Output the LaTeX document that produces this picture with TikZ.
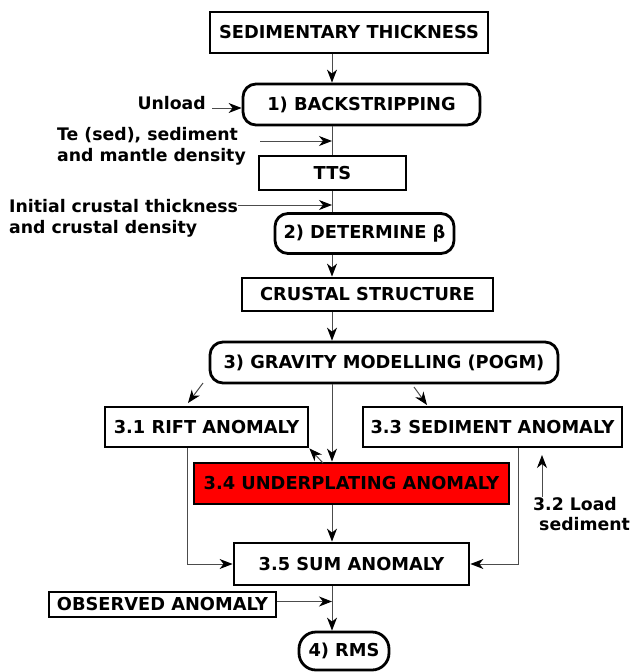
\documentclass[tikz,border=0pt]{standalone}
\usepackage{fontspec}
\setmainfont{DejaVu Sans}
\usetikzlibrary{arrows.meta}
\begin{document}
\begin{tikzpicture}[x=1pt,y=-1pt,
  every node/.style={font=\bfseries\fontsize{17.8}{20}\selectfont, inner sep=0pt},
  box/.style={draw, line width=2.8pt, minimum width=#1, rectangle},
  rbox/.style={draw, line width=2.8pt, minimum width=#1, rounded corners=13pt},
  conn/.style={draw=black!70, line width=1pt, -{Stealth[length=13pt,width=10pt,inset=4pt,color=black]}},
  line/.style={draw=black!70, line width=1pt},
  lbl/.style={align=left, font=\bfseries\fontsize{17.3}{21}\selectfont}]
\useasboundingbox (0,0) rectangle (630,672);
\coordinate (spine) at (332,0);
% main boxes
\node[box=278pt, minimum height=41pt] (sed) at (349,32.5) {SEDIMENTARY THICKNESS};
\node[rbox=237pt, minimum height=41pt] (back) at (361.5,104.5) {1) BACKSTRIPPING};
\node[box=147pt, minimum height=34pt] (tts) at (332.5,173) {TTS};
\node[rbox=179pt, minimum height=40pt] (det) at (364.5,233.5) {2) DETERMINE β};
\node[box=251pt, minimum height=33pt] (crust) at (367.5,294.5) {CRUSTAL STRUCTURE};
\node[rbox=348pt, minimum height=41pt] (grav) at (384,362.5) {3) GRAVITY MODELLING (POGM)};
\node[box=203pt, minimum height=40pt] (rift) at (206.5,427) {3.1 RIFT ANOMALY};
\node[box=259pt, minimum height=40pt] (sedan) at (492.5,427) {3.3 SEDIMENT ANOMALY};
\node[box=315pt, minimum height=41pt, fill=red] (under) at (351.5,483.5) {3.4 UNDERPLATING ANOMALY};
\node[box=235pt, minimum height=42pt] (sum) at (351.5,564) {3.5 SUM ANOMALY};
\node[box=227pt, minimum height=25pt] (obs) at (162.5,604.5) {OBSERVED ANOMALY};
\node[rbox=90pt, minimum height=38pt, rounded corners=17pt] (rms) at (344,651) {4) RMS};
% labels
\node[lbl, anchor=east] (unload) at (206,103) {Unload};
\node[lbl, anchor=west] (te) at (57,146) {Te (sed), sediment\\and mantle density};
\node[lbl, anchor=west] (init) at (9,218.5) {Initial crustal thickness\\and crustal density};
\node[lbl, anchor=north west, font=\bfseries\fontsize{17.3}{20}\selectfont] (load) at (533,497) {3.2 Load\\\ sediment};
% coordinates
\coordinate (tein) at (260,141);
\coordinate (initin) at (238,205);
\coordinate (gl1) at (203,383);
\coordinate (gl2) at (188,403);
\coordinate (gr1) at (414,387);
\coordinate (gr2) at (427,405);
\coordinate (ua) at (323,463);
\coordinate (rl) at (187,0);
\coordinate (sl) at (518,0);
\coordinate (lt) at (542,455);
% connectors
\draw[conn] (sed.south -| spine) -- (back.north -| spine);
\draw[conn] (unload.east) ++(6,5) -- (back.west |- 0,108);
\draw[line] (back.south -| spine) -- (tts.north -| spine);
\draw[conn] (tein) -- (tein -| spine);
\draw[line] (tts.south -| spine) -- (det.north -| spine);
\draw[conn] (initin) -- (initin -| spine);
\draw[conn] (det.south -| spine) -- (crust.north -| spine);
\draw[conn] (crust.south -| spine) -- (grav.north -| spine);
\draw[conn] (gl1) -- (gl2);
\draw[conn] (gr1) -- (gr2);
\draw[conn] (grav.south -| spine) -- (under.north -| spine);
\draw[conn] (ua) -- (rift.south east);
\draw[conn] (rift.south -| rl) |- (sum.west);
\draw[conn] (sedan.south -| sl) |- (sum.east);
\draw[conn] (load.north -| lt) -- (lt);
\draw[conn] (under.south -| spine) -- (sum.north -| spine);
\draw[conn] (obs.east) ++(0,-3) -- (spine |- 0,601.5);
\draw[conn] (sum.south -| spine) -- (rms.north -| spine);
\end{tikzpicture}
\end{document}
